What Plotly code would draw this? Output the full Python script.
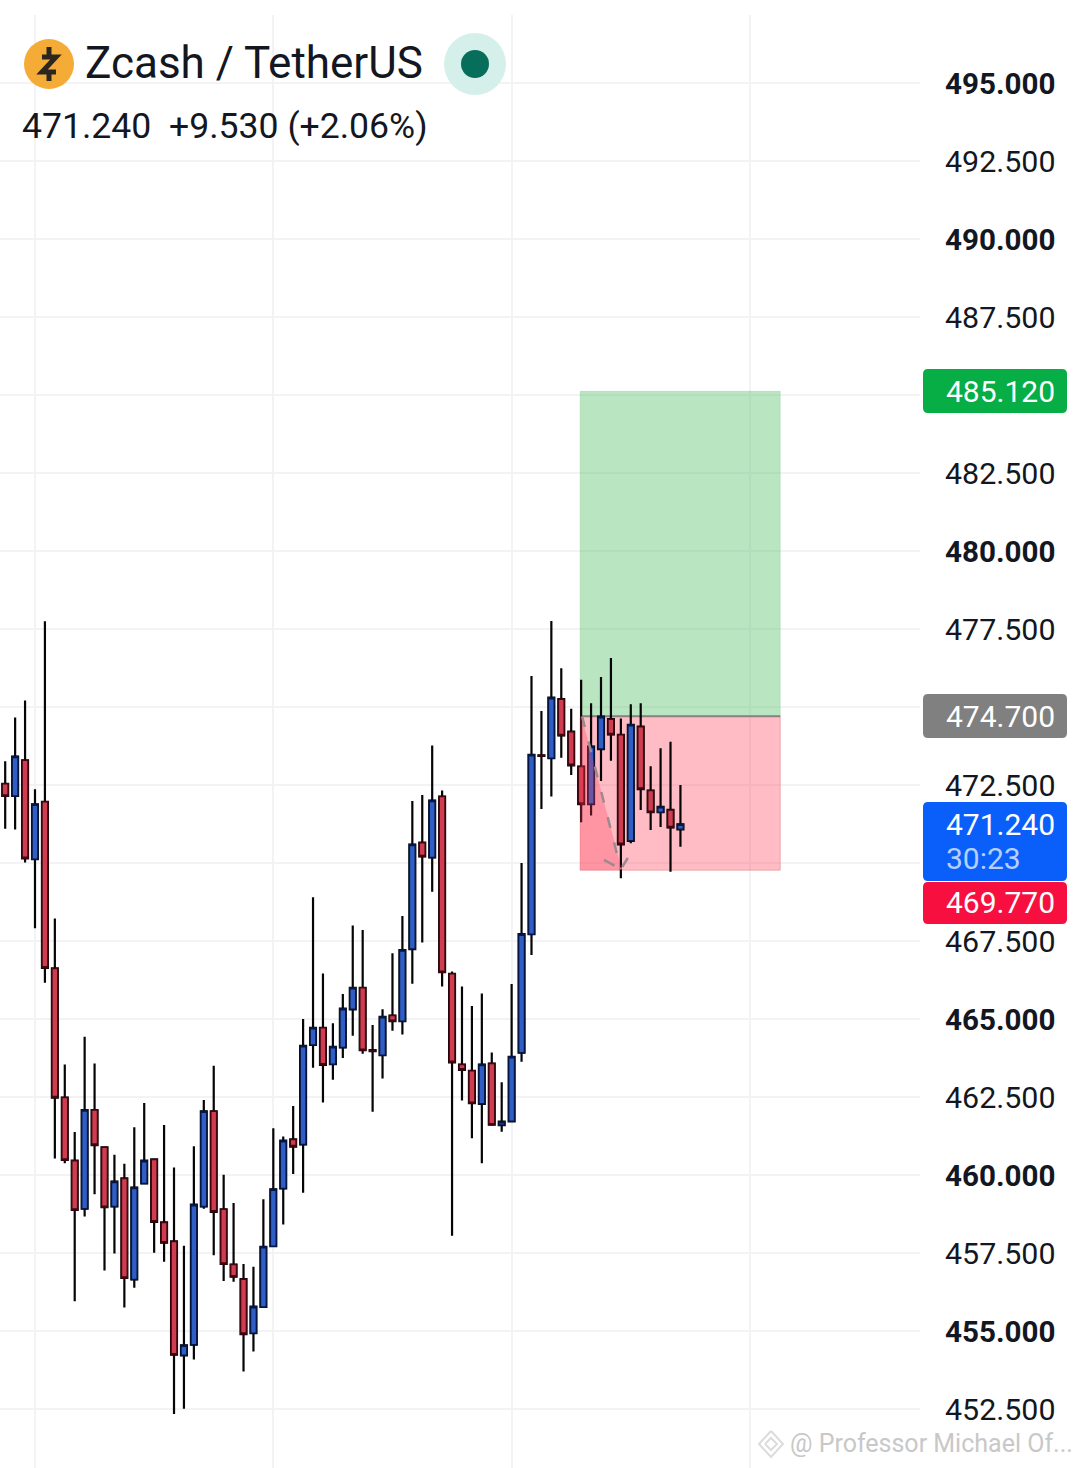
import plotly.graph_objects as go

W, H = 1080, 1468

# Candle data
bar_index = list(range(69))
opens = [472.54,472.15,473.29,470.12,471.96,466.62,462.48,460.46,458.92,462.08,460.89,458.99,459.89,456.65,459.73,460.50,458.48,457.87,454.22,454.56,458.99,462.04,458.90,457.13,456.66,454.93,455.77,457.72,459.57,461.14,460.98,464.17,464.72,463.55,464.09,465.31,466.00,464.00,463.84,465.11,464.93,467.24,470.65,470.18,472.13,466.45,463.54,463.34,462.28,463.57,461.60,461.72,463.92,467.72,473.45,473.36,475.25,474.21,473.09,471.89,473.65,474.61,474.11,470.71,474.37,472.32,471.63,471.70,471.08]
highs = [473.26,474.66,475.21,472.36,477.75,468.22,463.54,461.38,464.43,463.57,460.89,460.65,460.36,461.53,462.31,460.53,461.60,460.24,457.73,460.92,462.40,463.50,460.01,459.10,457.15,457.06,459.22,461.50,461.23,462.21,465.00,468.90,466.46,464.86,465.80,468.00,467.85,464.81,465.31,467.11,468.30,471.99,472.18,473.77,472.32,466.52,466.04,465.42,465.82,463.93,462.97,466.12,470.00,475.99,474.87,477.76,476.24,474.94,475.87,475.12,475.96,476.57,474.63,475.09,475.12,473.10,473.68,473.89,472.50]
lows = [471.10,471.07,470.02,467.91,466.16,460.53,460.38,455.95,458.67,459.38,456.94,457.48,455.75,456.39,459.70,457.51,457.22,452.34,452.51,454.09,458.92,457.43,456.60,456.58,453.70,454.34,455.77,457.72,458.41,460.03,459.43,463.44,462.32,463.05,463.75,464.46,463.89,462.03,463.09,464.62,464.50,466.13,467.45,469.08,466.04,458.05,462.39,461.18,460.38,461.61,461.39,461.72,463.63,467.05,471.73,472.13,473.37,472.82,471.31,471.52,472.63,473.28,469.51,470.63,471.70,471.06,471.15,469.72,470.52]
closes = [472.15,473.41,470.15,471.88,466.64,462.48,460.48,458.88,462.08,460.96,458.97,459.79,456.70,459.60,460.46,458.50,457.83,454.24,454.54,459.05,462.04,458.82,457.15,456.74,454.90,455.78,457.70,459.54,461.10,460.91,464.14,464.72,463.53,464.11,465.33,466.00,464.00,463.97,465.07,464.93,467.21,470.59,470.21,472.00,466.50,463.61,463.37,462.30,463.54,461.61,461.71,463.79,467.72,473.47,473.43,475.30,474.09,473.13,471.89,473.73,474.69,474.12,470.60,474.43,472.37,471.63,471.80,471.14,471.24]

# Axis
bold_span = "<b><span style='font-size:29.6px'>{}</span></b>"
price_ticks = [495,492.5,490,487.5,485,482.5,480,477.5,475,472.5,470,467.5,465,462.5,460,457.5,455,452.5]
price_labels = [bold_span.format("495.000"),"492.500",bold_span.format("490.000"),"487.500","","482.500",bold_span.format("480.000"),"477.500","","472.500","","467.500",bold_span.format("465.000"),"462.500",bold_span.format("460.000"),"457.500",bold_span.format("455.000"),"452.500"]
time_ticks = [3,27,51,75]

# Position tool
target_price = 485.12
entry_price = 474.70
stop_price = 469.77
last_price = 471.24
box_start, box_end = 57.9, 78.05
path_x = [58.1,62.0]
path_y = [474.70,469.80]
head_x = [60.3,62.0,62.7]
head_y = [470.10,469.80,470.16]
shade_x = [57.9,58.05,62.1,57.9]
shade_y = [474.70,474.70,469.77,469.77]

px_per_bar = 9.93
x0_px = 5.2
plot_right = 920
plot_top = 15
px_per_price = 31.2
y_top = 495 + (83 - plot_top) / px_per_price
y_bottom = 495 - (H - 83) / px_per_price

def X(p): return p / W
def Y(p): return 1 - p / H

fig = go.Figure()

fig.add_trace(go.Scatter(x=shade_x, y=shade_y, mode="none", fill="toself",
                         fillcolor="rgba(255,60,85,0.3)", hoverinfo="skip"))
for xs, ys in ((path_x, path_y), (head_x, head_y)):
    fig.add_trace(go.Scatter(x=xs, y=ys, mode="lines", hoverinfo="skip",
                             line=dict(color="#9c8a8e", width=2.5, dash="11px,15px" if xs is path_x else "12px,10px")))

# wicks
fig.add_trace(go.Candlestick(
    x=bar_index, open=opens, high=highs, low=lows, close=closes, whiskerwidth=0,
    increasing=dict(line=dict(color="#050505", width=2.2), fillcolor="#2d5bbf"),
    decreasing=dict(line=dict(color="#050505", width=2.2), fillcolor="#c93a4c"),
))
# bodies with their tinted outlines
body_hi = [max(o, c) for o, c in zip(opens, closes)]
body_lo = [min(o, c) for o, c in zip(opens, closes)]
fig.add_trace(go.Candlestick(
    x=bar_index, open=opens, high=body_hi, low=body_lo, close=closes, whiskerwidth=0,
    increasing=dict(line=dict(color="#071640", width=1.5), fillcolor="#2f5fc6"),
    decreasing=dict(line=dict(color="#3f0610", width=1.5), fillcolor="#cf3d50"),
))

shapes = [
    dict(type="rect", xref="x", yref="y", x0=box_start, x1=box_end, y0=entry_price, y1=target_price,
         fillcolor="rgba(77,187,95,0.39)", line=dict(color="rgba(77,187,95,0.2)", width=1), layer="between"),
    dict(type="rect", xref="x", yref="y", x0=box_start, x1=box_end, y0=stop_price, y1=entry_price,
         fillcolor="rgba(255,78,102,0.38)", line=dict(color="rgba(220,120,130,0.5)", width=1), layer="between"),
    dict(type="line", xref="x", yref="y", x0=box_start, x1=box_end, y0=entry_price, y1=entry_price,
         line=dict(color="#8a8080", width=2), layer="between"),
]

def rounded(x0, y0, x1, y1, r, color):
    a, b, c, d = X(x0), X(x1), Y(y0), Y(y1)
    rx, ry = r / W, r / H
    path = (f"M {a+rx} {c} L {b-rx} {c} Q {b} {c} {b} {c-ry} L {b} {d+ry} Q {b} {d} {b-rx} {d} "
            f"L {a+rx} {d} Q {a} {d} {a} {d+ry} L {a} {c-ry} Q {a} {c} {a+rx} {c} Z")
    return dict(type="path", xref="paper", yref="paper", path=path, fillcolor=color, line=dict(width=0))

def circle(cx, cy, r, color):
    return dict(type="circle", xref="paper", yref="paper", x0=X(cx-r), x1=X(cx+r), y0=Y(cy+r), y1=Y(cy-r),
                fillcolor=color, line=dict(width=0))

def poly(points, color, width):
    path = "M " + " L ".join(f"{X(a)} {Y(b)}" for a, b in points)
    return dict(type="path", xref="paper", yref="paper", path=path, line=dict(color=color, width=width))

shapes += [
    rounded(923, 369, 1067, 413, 5, "#07ad45"),
    rounded(923, 694, 1067, 738, 5, "#808080"),
    rounded(923, 802, 1067, 881, 5, "#0a5ffb"),
    rounded(923, 882, 1067, 924, 5, "#f7103f"),
    circle(49, 64, 25, "#f5ac37"),
    circle(475, 64, 31, "#d5f0eb"),
    circle(475, 64, 14, "#076e5b"),
    poly([(42, 57), (56, 57), (42, 72), (56, 72)], "#2b2620", 5),
    poly([(49, 47), (49, 56)], "#2b2620", 5),
    poly([(49, 72), (49, 81)], "#2b2620", 5),
    poly([(771, 1431), (783, 1444), (771, 1457), (759, 1444), (771, 1431)], "#dcdcdc", 2),
    poly([(765, 1444), (771, 1438), (777, 1444), (771, 1450), (765, 1444)], "#dcdcdc", 2),
]

def label(x, y, text, size, color):
    return dict(xref="paper", yref="paper", x=X(x), y=Y(y), text=text, showarrow=False,
                xanchor="left", yanchor="middle", align="left",
                font=dict(family="Roboto", size=size, color=color))

annotations = [
    label(83, 63, "Zcash / TetherUS", 44, "#131722"),
    label(20, 126, "471.240\u00a0\u00a0+9.530 (+2.06%)", 35.6, "#131722"),
    label(944, 391, f"{target_price:.3f}", 30, "#ffffff"),
    label(944, 716, f"{entry_price:.3f}", 30, "#ffffff"),
    label(944, 824, f"{last_price:.3f}", 30, "#ffffff"),
    label(944, 859, "30:23", 30, "#b5d0ff"),
    label(944, 902, f"{stop_price:.3f}", 30, "#ffffff"),
    label(788, 1443, "@ Professor Michael Of...", 25, "#c8c8c8"),
]

fig.update_layout(
    width=W, height=H, margin=dict(l=0, r=0, t=0, b=0), boxgap=0.15,
    paper_bgcolor="white", plot_bgcolor="white", showlegend=False,
    shapes=shapes, annotations=annotations, hovermode=False,
    xaxis=dict(domain=[0, plot_right / W],
               range=[(0 - x0_px) / px_per_bar, (plot_right - x0_px) / px_per_bar],
               tickvals=time_ticks, showticklabels=False, showgrid=True, gridcolor="#f3f3f6", gridwidth=2,
               zeroline=False, showline=False, ticks="", rangeslider=dict(visible=False), fixedrange=True),
    yaxis=dict(domain=[0, 1 - plot_top / H], range=[y_bottom, y_top], side="right",
               tickvals=price_ticks, ticktext=price_labels, showgrid=True, gridcolor="#f3f3f6", gridwidth=2,
               zeroline=False, showline=False, ticks="", ticklabelstandoff=24,
               tickfont=dict(family="Roboto", size=30.4, color="#131722"), fixedrange=True),
)

fig.write_html("out.html", post_script="document.body.style.margin='0';", config={"displayModeBar": False})
